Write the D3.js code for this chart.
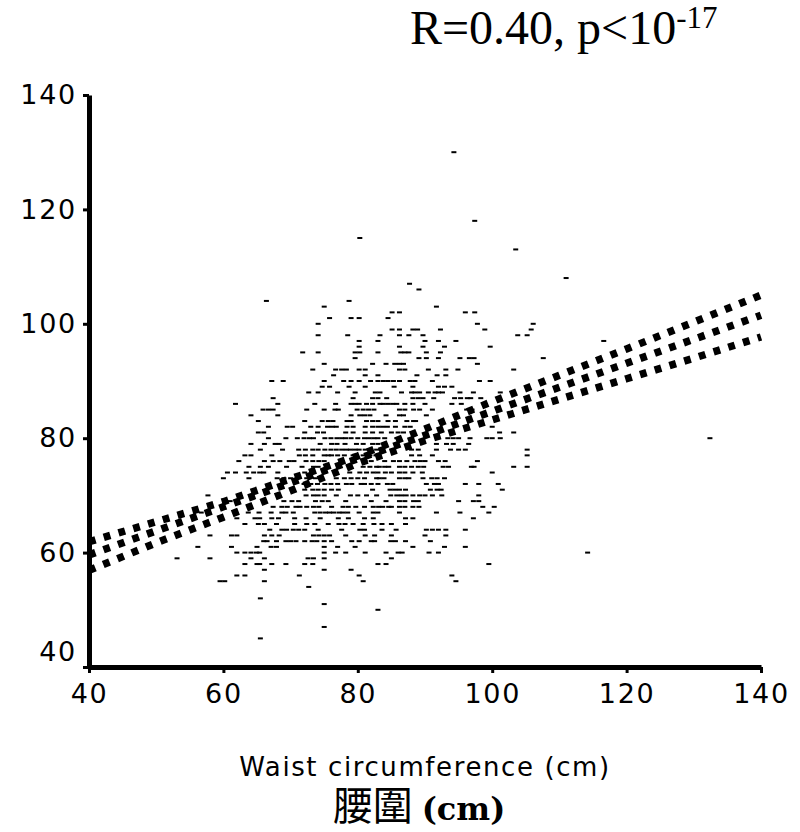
<!DOCTYPE html>
<html>
<head>
<meta charset="utf-8">
<script src="https://cdn.jsdelivr.net/npm/d3@7"></script>
<style>
  body { margin: 0; background: #fff; }
  .tick text { font-family: "DejaVu Sans", sans-serif; font-size: 27px; letter-spacing: 1.7px; fill: #000; }
</style>
</head>
<body>
<div id="chart"></div>
<script>
const rowHip = [130, 118, 115, 113, 108, 107, 106, 104, 103, 102, 101, 100, 99, 98, 97, 96, 95, 94, 93, 92, 91, 90, 89, 88, 87, 86, 85, 84, 83, 82, 81, 80, 79, 78, 77, 76, 75, 74, 73, 72, 71, 70, 69, 68, 67, 66, 65, 64, 63, 62, 61, 60, 59, 58, 57, 56, 55, 54, 52, 51, 50, 47, 45];
const rowWaist = [
  [94.3],
  [97.4],
  [80.3],
  [103.5],
  [111],
  [87.7],
  [89.1],
  [66.4, 78.7],
  [75.0, 91.7],
  [85.1, 86.2, 96.0, 97.4],
  [75.8, 79.0, 80.2, 84.5],
  [74.1, 97.8, 106.1],
  [85.1, 86.2, 88.2, 88.9, 92.3, 98.9, 105.8],
  [74.1, 78.5, 83.3, 86.2, 87.6, 89.7, 103.8, 105.2],
  [80.2, 83.0, 90, 92, 94.6, 116.6],
  [80.2, 86.2, 89.7, 92.9, 99.7],
  [71.8, 74.1, 79.6, 80.3, 83.0, 86.4, 87.0, 87.6, 90.2, 92.3],
  [79.6, 89.1, 90.2, 92, 95.2, 96.6, 97.3, 107.6],
  [75, 82.2, 84.2, 85.5, 86.2, 86.8, 97.8],
  [73.3, 76.7, 77.6, 78.3, 80.2, 81.1, 86.2, 87, 90.5, 93.1, 94.9, 103.2],
  [76.4, 81.1, 83, 88.8, 91.8, 93.1],
  [67.2, 68.9, 75, 77.9, 79, 80.2, 81.9, 83, 83.8, 84.5, 85.3, 86.2, 87.8, 88.5, 91.1, 98.1, 99.7],
  [74.7, 75.8, 78.7, 81.1, 85.4, 88.2, 92, 92.9, 94],
  [72.7, 74.1, 77, 79.6, 82.6, 83.3, 86.5, 88, 88.5, 89.2, 90.5, 91.5, 92, 92.6, 95.2, 97.2, 101.2],
  [67.4, 79.3, 82.2, 83, 84.3, 88.2, 89, 89.7, 91.3, 94.4, 95.3, 96.3, 96.8, 98.3],
  [61.8, 68.1, 73.6, 76.7, 79, 79.6, 80.2, 81.3, 82.2, 83.3, 83.8, 84.5, 85.2, 85.8, 87, 88.2, 90, 94, 95.4],
  [65.9, 66.7, 67.4, 72.4, 75, 76.6, 77.1, 79.9, 80.8, 81.6, 82.4, 86.2, 87, 88.3, 89.2, 91.1, 96.2, 97],
  [64.1, 68.1, 79, 80.3, 81, 81.8, 84.2, 86.2, 86.8, 90.2],
  [65.2, 72.1, 74.7, 75.6, 76.3, 78.4, 79, 81.3, 82.2, 83, 84.5, 85.6, 87.3, 88.3, 88.6],
  [66.7, 69.5, 70.3, 73, 74.1, 75.5, 76.2, 76.8, 78.4, 79.3, 81.1, 82.2, 83, 83.7, 84.4, 85.6, 87, 87.8, 100],
  [65.2, 66, 72.1, 74, 74.9, 78.2, 79.3, 81.1, 82.2, 83.5, 85, 86, 86.8, 101.1, 103.2],
  [66.7, 69.3, 71, 72, 72.8, 73.4, 75.1, 76, 76.9, 77.6, 78.2, 79, 80, 81, 81.7, 82.4, 83, 84, 85.8, 93.4, 94.2, 95, 96.7, 99.2, 100, 101.2, 132.4],
  [64.1, 66.1, 67.7, 68.3, 74.4, 76.1, 76.9, 78.1, 79.8, 80.8, 82.2, 83, 91.7, 93.2, 94.2, 96.5],
  [65.5, 68.8, 71.2, 72.2, 73.3, 74.1, 75.1, 76, 76.8, 77.6, 78.3, 78.9, 79.6, 80.2, 81.1, 82.8, 88, 89, 91.7, 93.8, 95, 96, 105.2],
  [63.2, 64.1, 67.2, 71.3, 72.2, 73.3, 75, 75.6, 76.1, 77, 78, 79.3, 80.8, 81.8, 82.7, 88, 89.2, 91.1, 105.2],
  [62.3, 66.1, 67.4, 68.4, 69.8, 70.5, 72.3, 73.3, 74.2, 75, 81.1, 82, 84, 85.3, 86.2, 87.3, 88.5, 89.3, 90, 92, 93, 97.8],
  [63.8, 65.5, 66.7, 69.4, 71.7, 73.4, 74.1, 80.8, 81.8, 82.8, 83.2, 84, 84.6, 86.2, 87, 88, 89, 89.8, 92.7, 93.5, 96.9, 97.3, 103.2, 105.2],
  [60.6, 61.8, 63.4, 64.5, 65.4, 66, 68.1, 72.1, 73.4, 78.8, 80.3, 81.3, 82.3, 83, 84.1, 85, 86.2, 87, 88.2, 89.6, 100],
  [60, 63.8, 68, 69, 70, 72.4, 73.7, 74.5, 76.8, 78, 79, 80, 81, 82.8, 83.2, 83.9, 86.2, 87, 87.6, 89.7, 91, 91.8, 92.9],
  [72, 73, 74, 75.1, 76, 77, 78.3, 79.1, 80.5, 81, 82, 83, 84.4, 85.2, 90.2, 91.4, 92, 96, 98, 100.9],
  [72.1, 73.3, 74.1, 75, 76.1, 77.1, 82.2, 84.8, 85.5, 86.2, 87.1, 90.8, 91.8, 92.4, 101.5],
  [57.7, 72.3, 73.4, 74.1, 75, 76.8, 78.9, 80, 81.3, 82.8, 84.9, 85.8, 86.5, 87.2, 88.2, 89.2, 90, 91.1, 92.5, 98],
  [61, 69, 70.2, 71.2, 73.7, 74.7, 75.6, 78.2, 82, 84.2, 86.2, 87, 88.3, 89, 95, 97.2, 98],
  [64, 67.4, 68.7, 69.5, 70.8, 71.4, 72.4, 73.4, 74.2, 76.1, 77.8, 78.6, 79.7, 81, 82.3, 83.1, 83.7, 84.6, 85, 86.2, 87, 88.2, 89.1, 98.6, 100.3],
  [56.7, 63.7, 65.3, 67.1, 68.7, 69.3, 70.4, 73.6, 74.4, 75.2, 75.8, 76.4, 77.2, 77.8, 78.5, 80.2, 82.3, 83, 86.2, 91.7, 95.2, 99.5],
  [62, 64.7, 65.4, 67.2, 68.2, 70.6, 72.3, 74.4, 77.1, 78.6, 81, 82.3, 87.1, 88.2, 97.2],
  [63.2, 65.2, 66.1, 67.9, 70.6, 72.4, 73.6, 75.6, 77.2, 78.1, 79.3, 80.8, 82.4, 83.6, 85, 87.1],
  [66.9, 68.7, 69.4, 70.4, 71.2, 72.1, 74.1, 77.6, 80.3, 81, 83.6, 85.7, 90.2, 91.1, 92, 93.1, 96],
  [58, 61.2, 62, 66.1, 67.2, 68.3, 73.4, 74.2, 75, 75.8, 78.2, 81.1, 82.5, 85, 90, 93.1],
  [66, 66.5, 67.9, 69.3, 70, 70.8, 72.1, 73.2, 73.9, 75, 76.1, 79.1, 80.2, 82, 82.5, 84.9, 85.6, 87.1, 90.8],
  [56.2, 61.2, 65, 67.1, 67.9, 75, 77, 79.6, 88.2, 92.9, 96],
  [62, 63.2, 64.1, 64.9, 65.4, 75, 76.7, 78.2, 81.1, 84.2, 86, 86.6, 90.6, 92, 114.2],
  [53.1, 58, 64.1, 66.1, 72.6, 73.4, 75, 85],
  [63.2, 65, 65.4, 67.2, 69.3, 72.1, 73.3, 83, 84.2, 99.5],
  [66.1, 75, 79],
  [62, 63.2, 71.3, 80.2, 94],
  [59.5, 60.2, 66.1, 80.8, 94.6],
  [72.7],
  [65.5],
  [75],
  [83],
  [75],
  [65.5]
];

// regression line and its two confidence limits
const lineWaist = [40, 50, 60, 70, 80, 90, 100, 110, 120, 130, 140];
const upperHip = [61.9, 65.4, 68.9, 72.9, 76.9, 81.6, 86.4, 91, 95.6, 100.3, 105];
const fitHip = [59.6, 63.8, 68, 72.2, 76.4, 80.5, 84.7, 88.9, 93.1, 97.3, 101.5];
const lowerHip = [56.9, 61.7, 66.2, 70.8, 75.6, 79.6, 83.2, 86.8, 90.4, 94, 97.7];

const xTicks = [40, 60, 80, 100, 120, 140];
const yTicks = [40, 60, 80, 100, 120, 140];

const width = 800;
const height = 832;

const svg = d3.select('#chart')
    .append('svg')
    .attr('width', width)
    .attr('height', height);

const x = d3.scaleLinear().domain([40, 140]).range([89, 761]);
const y = d3.scaleLinear().domain([40, 140]).range([667, 95]);

// scatter dashes
rowHip.forEach((hip, i) => {
    svg.append('g').selectAll('rect')
        .data(rowWaist[i])
        .enter()
        .append('rect')
        .attr('x', d => x(d) - 2.5)
        .attr('y', y(hip) - 1)
        .attr('width', 5)
        .attr('height', 2)
        .attr('fill', '#000');
});

// axes
const xAxis = svg.append('g')
    .attr('transform', `translate(0,${y(40)})`)
    .call(d3.axisBottom(x).tickValues(xTicks).tickSize(6).tickPadding(11).tickSizeOuter(0));
const yAxis = svg.append('g')
    .attr('transform', `translate(${x(40)},0)`)
    .call(d3.axisLeft(y).tickValues(yTicks).tickSize(6).tickPadding(6).tickSizeOuter(0));

[xAxis, yAxis].forEach(a => {
    a.select('.domain').attr('stroke', '#000').attr('stroke-width', 5);
    a.selectAll('.tick line').attr('stroke', '#000').attr('stroke-width', 3);
});
// the bottom y label sits above its tick in the original
yAxis.selectAll('.tick').filter(d => d === 40).select('text').attr('y', -15);

// dotted lines
const line = d3.line().x((d, i) => x(lineWaist[i])).y(d => y(d));
[upperHip, fitHip, lowerHip].forEach(values => {
    svg.append('path')
        .attr('d', line(values))
        .attr('fill', 'none')
        .attr('stroke', '#000')
        .attr('stroke-width', 7.5)
        .attr('stroke-dasharray', '6.8 8.6');
});

// titles
svg.append('text')
    .attr('x', 425)
    .attr('y', 776)
    .attr('text-anchor', 'middle')
    .attr('font-family', '"DejaVu Sans", sans-serif')
    .attr('font-size', 26)
    .attr('letter-spacing', 1.6)
    .text('Waist circumference (cm)');

const cn = svg.append('text')
    .attr('x', 419)
    .attr('y', 820)
    .attr('text-anchor', 'middle');
cn.append('tspan')
    .attr('font-family', '"Noto Sans CJK TC", sans-serif')
    .attr('font-size', 40)
    .text('腰圍 ');
cn.append('tspan')
    .attr('font-family', '"DejaVu Serif", serif')
    .attr('font-weight', 'bold')
    .attr('font-size', 32)
    .text('(cm)');

const stat = svg.append('text')
    .attr('x', 410)
    .attr('y', 44)
    .attr('font-family', '"Liberation Serif", serif')
    .attr('font-size', 48);
stat.append('tspan').text('R=0.40, p<10');
stat.append('tspan').attr('font-size', 31).attr('dy', -16).text('-17');
</script>
</body>
</html>
